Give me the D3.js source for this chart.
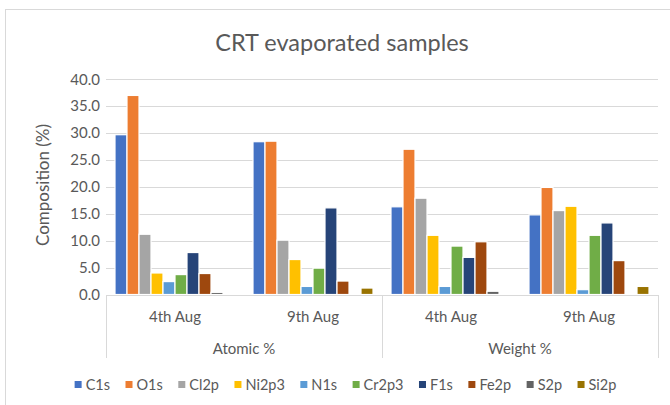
<!DOCTYPE html>
<html><head><meta charset="utf-8">
<script src="https://cdn.jsdelivr.net/npm/d3@7"></script>
<style>body{margin:0;background:#fff;} text{font-family:Lato, "Open Sans", sans-serif;fill:#595959;}</style>
</head><body>
<svg id="c" width="670" height="405"></svg>
<script>
const groups = ["Atomic %", "Weight %"];
const dates = ["4th Aug", "9th Aug"];
const series = ["C1s","O1s","Cl2p","Ni2p3","N1s","Cr2p3","F1s","Fe2p","S2p","Si2p"];
const colors = ["#4472C4","#ED7D31","#A5A5A5","#FFC000","#5B9BD5","#70AD47","#264478","#9E480E","#636363","#997300"];
// values per category: Atomic 4th, Atomic 9th, Weight 4th, Weight 9th
const C1s   = [29.7, 28.4, 16.3, 14.8];
const O1s   = [37.0, 28.5, 27.0, 19.9];
const Cl2p  = [11.2, 10.1, 17.9, 15.6];
const Ni2p3 = [4.0, 6.5, 11.0, 16.4];
const N1s   = [2.4, 1.5, 1.5, 0.9];
const Cr2p3 = [3.7, 4.9, 9.0, 11.0];
const F1s   = [7.8, 16.1, 6.9, 13.3];
const Fe2p  = [3.9, 2.5, 9.8, 6.3];
const S2p   = [0.4, 0, 0.6, 0];
const Si2p  = [0, 1.2, 0, 1.5];
const yTicks = [0,5,10,15,20,25,30,35,40];
const values = [C1s,O1s,Cl2p,Ni2p3,N1s,Cr2p3,F1s,Fe2p,S2p,Si2p];

(function(){
const svg = d3.select("#c");
svg.append("rect").attr("x",5.5).attr("y",9.5).attr("width",700).attr("height",420)
  .attr("fill","none").attr("stroke","#d9d9d9");

const pL=106, pR=658, pT=79.3, pB=294.5;
const cats = [];
groups.forEach(g=>dates.forEach(d=>cats.push(g+"|"+d)));
const x0 = d3.scaleBand().domain(cats).range([pL,pR]);
const x1 = d3.scaleBand().domain(series).range([0,x0.bandwidth()]).paddingInner(0).paddingOuter(0.75);
const y = d3.scaleLinear().domain([0,40]).range([pB,pT]);

svg.append("g").selectAll("line").data(yTicks).join("line")
  .attr("x1",pL).attr("x2",pR)
  .attr("y1",d=>Math.round(y(d))+0.5).attr("y2",d=>Math.round(y(d))+0.5)
  .attr("stroke","#d9d9d9").attr("stroke-width",1);

svg.append("g").selectAll("text").data(yTicks).join("text")
  .attr("x",100).attr("y",d=>y(d)).attr("dy","0.35em").attr("text-anchor","end")
  .attr("font-size",15).text(d=>d.toFixed(1));

const bars = svg.append("g");
cats.forEach((c,ci)=>{
  series.forEach((s,si)=>{
    const v = values[si][ci];
    if(v<=0) return;
    bars.append("rect")
      .attr("x",x0(c)+x1(s)).attr("width",x1.bandwidth())
      .attr("y",y(v)).attr("height",pB-y(v))
      .attr("fill",colors[si]).attr("stroke","#fff").attr("stroke-width",1.2);
  });
});

const axisBottom = 358;
svg.append("line").attr("x1",pL).attr("x2",pR).attr("y1",295.5).attr("y2",295.5).attr("stroke","#d9d9d9");
const xg = d3.scaleBand().domain(groups).range([pL,pR]);
[pL, xg("Weight %"), pR].forEach(xx=>{
  svg.append("line").attr("x1",Math.round(xx)+0.5).attr("x2",Math.round(xx)+0.5).attr("y1",295).attr("y2",axisBottom).attr("stroke","#d9d9d9");
});
svg.append("g").selectAll("text").data(cats).join("text")
  .attr("x",d=>x0(d)+x0.bandwidth()/2).attr("y",322).attr("text-anchor","middle")
  .attr("font-size",15).text(d=>d.split("|")[1]);
svg.append("g").selectAll("text").data(groups).join("text")
  .attr("x",d=>xg(d)+xg.bandwidth()/2).attr("y",354).attr("text-anchor","middle")
  .attr("font-size",15).text(d=>d);

svg.append("text").attr("x",342).attr("y",51).attr("text-anchor","middle")
  .attr("font-size",23.5).text("CRT evaporated samples");
svg.append("text").attr("transform","translate(49,185) rotate(-90)").attr("text-anchor","middle")
  .attr("font-size",17).text("Composition (%)");

const lg = svg.append("g");
const items = [];
series.forEach((s,i)=>{
  const g = lg.append("g");
  g.append("rect").attr("x",0).attr("y",-3.5).attr("width",7).attr("height",7).attr("fill",colors[i]);
  const t = g.append("text").attr("x",11).attr("y",0).attr("dy","0.35em").attr("font-size",14.5).text(s);
  items.push({g, w: 11 + t.node().getComputedTextLength()});
});
const gap = 15.5;
const total = d3.sum(items,d=>d.w) + gap*(items.length-1);
let cx = 345.5 - total/2;
items.forEach(it=>{ it.g.attr("transform",`translate(${cx},384.5)`); cx += it.w + gap; });
})();
</script>
</body></html>
